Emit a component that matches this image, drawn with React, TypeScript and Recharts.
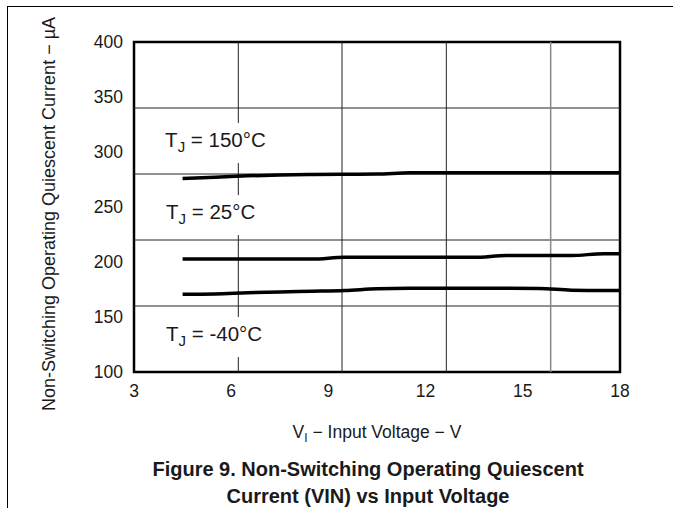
import React from 'react';
import { LineChart, Line, XAxis, YAxis, ReferenceLine, ReferenceArea, ReferenceDot } from 'recharts';

const FONT = '"Liberation Sans", Arial, Helvetica, sans-serif';

const xTicks = [3, 6, 9, 12, 15, 18];
const yTicks = [100, 150, 200, 250, 300, 350, 400];
const xGrid = [6.22, 9.42, 12.64, 15.86];
const yGrid = [160, 220, 280, 340];

const voltage = [4.5, 5.5, 6.5, 7.5, 8.5, 9.5, 10.5, 11.5, 12.5, 13.5, 14.5, 15.5, 16.5, 17.5, 18];
const iq150 = [276, 277, 278.3, 279.2, 279.6, 279.8, 279.9, 281.2, 281.2, 281.2, 281.2, 281.2, 281.2, 281.2, 281.2];
const iq25 = [202.7, 202.7, 202.7, 202.7, 202.7, 204.3, 204.3, 204.3, 204.3, 204.3, 205.9, 205.9, 205.9, 207.5, 207.5];
const iqm40 = [170.6, 170.9, 172, 172.8, 173.4, 174.1, 175.6, 176.1, 176.1, 176.1, 176.1, 176, 174.4, 174.1, 174.1];

const annoLabels = [' = 150°C', ' = 25°C', ' = -40°C'];
const annoX = [3.96, 3.99, 3.99];
const annoY = [304.5, 239, 128.2];
const annoW = [114, 104, 112];

const toRows = (vals: number[]) => voltage.map((v, i) => ({ v, i: vals[i] }));
const series = [
  { key: '150', data: toRows(iq150) },
  { key: '25', data: toRows(iq25) },
  { key: '-40', data: toRows(iqm40) },
];

const makeAnno = (text: string, w: number) => (props: any) => {
  const { cx, cy } = props;
  return (
    <g>
      <rect x={cx - 5} y={cy - 24} width={w} height={40} fill="#ffffff" />
      <text x={cx} y={cy} fontSize={20.5} fill="#1a1a1a" fontFamily={FONT}>
        T
        <tspan fontSize={15} dy={5}>J</tspan>
        <tspan dy={-5}>{text}</tspan>
      </text>
    </g>
  );
};

const YTitle = (props: any) => {
  const vb = props.viewBox || { x: 0, y: 42, width: 134, height: 330 };
  const cx = vb.x + 49;
  const cy = vb.y + vb.height / 2 + 7;
  return (
    <text
      x={cx}
      y={cy}
      transform={`rotate(-90 ${cx} ${cy})`}
      textAnchor="middle"
      dominantBaseline="central"
      fontSize={18}
      fill="#1a1a1a"
      fontFamily={FONT}
    >
      Non-Switching Operating Quiescent Current − µA
    </text>
  );
};

const XTitle = (props: any) => {
  const vb = props.viewBox || { x: 134, y: 372, width: 486, height: 136 };
  const cx = vb.x + vb.width / 2;
  const y = vb.y + 66;
  return (
    <text x={cx} y={y} textAnchor="middle" fontSize={17.5} fill="#1a1a1a" fontFamily={FONT}>
      V<tspan fontSize={12} dy={4}>I</tspan>
      <tspan dy={-4}> − Input Voltage − V</tspan>
    </text>
  );
};

export default function App() {
  return (
    <div style={{ position: 'absolute', left: 0, top: 0, width: 673, height: 508, background: '#fff' }}>
      <div
        style={{
          position: 'absolute',
          left: 7,
          top: 6,
          right: 0,
          bottom: 0,
          borderTop: '1.5px solid #000',
          borderLeft: '1.5px solid #000',
        }}
      />
      <LineChart
        width={673}
        height={508}
        margin={{ top: 42, right: 53, left: 0, bottom: 0 }}
        style={{ position: 'absolute', left: 0, top: 0 }}
      >
        <XAxis
          type="number"
          dataKey="v"
          domain={[3, 18]}
          ticks={xTicks}
          allowDuplicatedCategory={false}
          height={136}
          axisLine={false}
          tickLine={false}
          tickMargin={7}
          tick={{ fontSize: 17.5, fill: '#1a1a1a', fontFamily: FONT }}
          label={<XTitle />}
        />
        <YAxis
          type="number"
          domain={[100, 400]}
          ticks={yTicks}
          width={134}
          axisLine={false}
          tickLine={false}
          tickMargin={5}
          tick={{ fontSize: 17.5, fill: '#1a1a1a', fontFamily: FONT }}
          label={<YTitle />}
        />
        {yGrid.map((g) => (
          <ReferenceLine key={'y' + g} y={g} stroke="#222" strokeWidth={1} />
        ))}
        {xGrid.map((g, i) => (
          <ReferenceLine
            key={'x' + g}
            x={g}
            stroke={i === xGrid.length - 1 ? '#888' : '#222'}
            strokeWidth={i === xGrid.length - 1 ? 1.5 : 1}
          />
        ))}
        {annoLabels.map((t, i) => (
          <ReferenceDot key={t} x={annoX[i]} y={annoY[i]} r={0} shape={makeAnno(t, annoW[i])} />
        ))}
        {series.map((s) => (
          <Line
            key={s.key}
            data={s.data}
            dataKey="i"
            type="monotone"
            stroke="#000"
            strokeWidth={3.5}
            dot={false}
            activeDot={false}
            isAnimationActive={false}
          />
        ))}
        <ReferenceArea x1={3} x2={18} y1={100} y2={400} fill="none" stroke="#000" strokeWidth={2.5} />
      </LineChart>
      <div
        style={{
          position: 'absolute',
          left: 68,
          width: 600,
          top: 456,
          textAlign: 'center',
          fontFamily: FONT,
          fontWeight: 'bold',
          fontSize: 20,
          lineHeight: '27px',
          color: '#1a1a1a',
        }}
      >
        Figure 9. Non-Switching Operating Quiescent
        <br />
        Current (VIN) vs Input Voltage
      </div>
    </div>
  );
}
